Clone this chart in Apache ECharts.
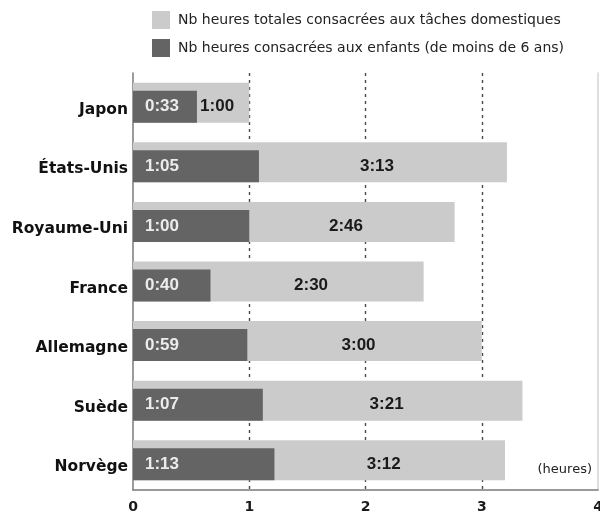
<!DOCTYPE html>
<html>
<head>
<meta charset="utf-8">
<script src="https://cdn.jsdelivr.net/npm/echarts@6/dist/echarts.min.js"></script>
<style>
html,body{margin:0;padding:0;background:#fff;}
#chart{width:600px;height:518px;}
</style>
</head>
<body>
<div id="chart"></div>
<script>
// Data (minutes per day)
const countries = ['Japon', 'États-Unis', 'Royaume-Uni', 'France', 'Allemagne', 'Suède', 'Norvège'];
const totalMinutes = [60, 193, 166, 150, 180, 201, 192];   // Nb heures totales consacrées aux tâches domestiques
const kidMinutes = [33, 65, 60, 40, 59, 67, 73];           // Nb heures consacrées aux enfants (de moins de 6 ans)
const tickHours = [0, 1, 2, 3, 4];
const seriesNames = ['Nb heures totales consacrées aux tâches domestiques', 'Nb heures consacrées aux enfants (de moins de 6 ans)'];
const unitLabel = '(heures)';

const fmt = m => Math.floor(m / 60) + ':' + String(m % 60).padStart(2, '0');
const remainder = totalMinutes.map((t, i) => t - kidMinutes[i]);

const chart = echarts.init(document.getElementById('chart'), null, {renderer: 'canvas'});
chart.setOption({
  animation: false,
  backgroundColor: '#ffffff',
  legend: {
    orient: 'vertical',
    left: 152,
    top: 11,
    padding: 0,
    itemWidth: 18,
    itemHeight: 18,
    itemGap: 10,
    icon: 'rect',
    data: seriesNames,
    textStyle: {fontFamily: 'DejaVu Sans', fontSize: 14, color: '#222', padding: [0, 0, 0, 3]}
  },
  title: {
    text: unitLabel,
    right: 8,
    top: 463,
    padding: 0,
    textStyle: {fontFamily: 'DejaVu Sans', fontSize: 13, fontWeight: 'normal', color: '#222'}
  },
  grid: {left: 133, right: 2, top: 73, bottom: 28, containLabel: false, outerBoundsMode: 'none'},
  xAxis: {
    type: 'value',
    min: 0,
    max: 240,
    interval: 60,
    axisLine: {show: true, lineStyle: {color: '#7a7a7a', width: 1.5}},
    axisTick: {show: false},
    axisLabel: {
      margin: 10,
      fontFamily: 'DejaVu Sans',
      fontSize: 14,
      fontWeight: 'bold',
      color: '#1a1a1a',
      formatter: v => String(tickHours[Math.round(v / 60)])
    },
    splitLine: {
      show: true,
      showMinLine: false,
      showMaxLine: false,
      lineStyle: {color: '#4a4a4a', width: 1.4, type: [3, 4]}
    }
  },
  yAxis: [{
    type: 'category',
    data: countries,
    inverse: true,
    axisLine: {show: true, lineStyle: {color: '#7a7a7a', width: 1.5}},
    axisTick: {show: false},
    axisLabel: {margin: 5, verticalAlign: 'top', lineHeight: 14, fontFamily: 'DejaVu Sans', fontSize: 15.5, fontWeight: 'bold', color: '#111'}
  }, {
    type: 'category',
    data: countries,
    inverse: true,
    position: 'right',
    axisLine: {show: true, lineStyle: {color: '#d4d4d4', width: 1.5}},
    axisTick: {show: false},
    axisLabel: {show: false}
  }],
  series: [
    {
      name: seriesNames[0],
      type: 'bar',
      data: totalMinutes,
      barWidth: 40,
      barGap: '-80%',
      itemStyle: {color: '#cbcbcb'},
      z: 2
    },
    {
      name: seriesNames[1],
      type: 'bar',
      stack: 'k',
      data: kidMinutes,
      barWidth: 32,
      barGap: '-80%',
      itemStyle: {color: '#646464'},
      label: {
        show: true,
        position: 'insideLeft',
        distance: 12,
        fontFamily: 'Liberation Sans',
        fontSize: 17,
        fontWeight: 'bold',
        color: '#ececec',
        formatter: p => fmt(kidMinutes[p.dataIndex])
      },
      z: 3
    },
    {
      name: 'reste',
      type: 'bar',
      stack: 'k',
      data: remainder,
      barWidth: 32,
      barGap: '-80%',
      itemStyle: {color: 'rgba(0,0,0,0)'},
      label: {
        show: true,
        position: 'inside',
        offset: [-6, 0],
        fontFamily: 'Liberation Sans',
        fontSize: 17,
        fontWeight: 'bold',
        color: '#1a1a1a',
        formatter: p => fmt(totalMinutes[p.dataIndex])
      },
      tooltip: {show: false},
      z: 3
    }
  ]
});
</script>
</body>
</html>
